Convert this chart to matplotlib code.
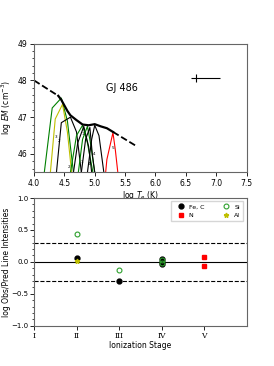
import numpy as np
import matplotlib.pyplot as plt
from matplotlib.ticker import MultipleLocator

# EM distribution (log T, log EM)
em_logt = [4.40, 4.45, 4.50, 4.55, 4.60, 4.70, 4.80, 4.90, 5.00, 5.10, 5.20, 5.30]
em_val = [47.58, 47.47, 47.32, 47.17, 47.05, 46.92, 46.80, 46.78, 46.81, 46.75, 46.70, 46.60]
dash_lo_t = [4.0, 4.40]
dash_lo_em = [48.0, 47.58]
dash_hi_t = [5.30, 5.70]
dash_hi_em = [46.60, 46.20]

# contribution-function loci: (color, logT, logEM)
loci = [
    ("green", [4.17, 4.30, 4.45, 4.55, 4.65], [45.5, 47.25, 47.52, 46.9, 45.5]),
    ("y", [4.27, 4.35, 4.47, 4.55, 4.62], [45.5, 46.95, 47.35, 46.6, 45.5]),
    ("k", [4.37, 4.45, 4.60, 4.70, 4.78], [45.5, 46.85, 47.00, 46.6, 45.5]),
    ("green", [4.60, 4.70, 4.80, 4.88, 4.97], [45.5, 46.5, 46.78, 46.3, 45.5]),
    ("k", [4.65, 4.72, 4.82, 4.90, 4.95], [45.5, 46.3, 46.75, 46.2, 45.5]),
    ("green", [4.73, 4.80, 4.88, 4.93, 5.00], [45.5, 46.4, 46.75, 46.3, 45.5]),
    ("k", [4.78, 4.85, 4.92, 4.96, 5.00], [45.5, 46.4, 46.72, 46.0, 45.5]),
    ("k", [4.88, 4.95, 5.00, 5.07, 5.15], [45.5, 46.4, 46.78, 46.5, 45.5]),
    ("red", [5.18, 5.20, 5.30, 5.34, 5.38], [45.5, 45.85, 46.58, 46.1, 45.5]),
]
loci_labels = [("3", 4.36, 46.45), ("2", 4.42, 46.35), ("2", 4.57, 45.65),
               ("1", 4.80, 46.55), ("1", 4.78, 45.78), ("4", 4.90, 45.72),
               ("4", 4.99, 46.0), ("5", 5.30, 46.15)]

# line ratios (ionization stage, log obs/pred)
fec_stage = [2, 3, 4, 4, 4]
fec_val = [0.06, -0.30, 0.04, 0.0, -0.04]
n_stage = [5, 5]
n_val = [0.08, -0.07]
si_stage = [2, 3, 4, 4]
si_val = [0.44, -0.13, 0.03, -0.02]
al_stage = [2]
al_val = [0.01]
stage_labels = ["I", "II", "III", "IV", "V"]

plt.rcParams['font.size'] = 5.5
fig = plt.figure(figsize=(2.74, 3.66), dpi=100)

ax1 = fig.add_axes([0.124, 0.529, 0.776, 0.352])
for c, t, e in loci:
    ax1.plot(t, e, color=c, lw=0.8)
for s, t, e in loci_labels:
    ax1.text(t, e, s, fontsize=3, ha='center', va='center')
ax1.plot(em_logt, em_val, 'k-', lw=1.6)
ax1.plot(dash_lo_t, dash_lo_em, 'k--', lw=1.3)
ax1.plot(dash_hi_t, dash_hi_em, 'k--', lw=1.3)
ax1.errorbar([6.67], [48.06], xerr=[[0.09], [0.40]], yerr=0.1, fmt='none',
             ecolor='k', elinewidth=0.8)
ax1.text(5.44, 47.78, "GJ 486", fontsize=7, ha='center', va='center')
ax1.set_xlim(4.0, 7.5)
ax1.set_ylim(45.5, 49)
ax1.xaxis.set_major_locator(MultipleLocator(0.5))
ax1.yaxis.set_major_locator(MultipleLocator(1))
ax1.yaxis.set_minor_locator(MultipleLocator(0.2))
ax1.set_xlabel(r"log $T_e$ (K)", labelpad=1)
ax1.set_ylabel(r"log $EM$ (cm$^{-3}$)")
ax1.yaxis.set_label_coords(-0.095, 0.5)

ax2 = fig.add_axes([0.124, 0.110, 0.776, 0.349])
ax2.axhline(0, color='k', lw=0.8)
ax2.axhline(0.3, color='k', lw=0.8, ls='--')
ax2.axhline(-0.3, color='k', lw=0.8, ls='--')
ax2.plot(fec_stage, fec_val, 'o', color='k', ms=3.5, label="Fe, C")
ax2.plot(n_stage, n_val, 's', color='red', ms=3.5, label="N")
ax2.plot(si_stage, si_val, 'o', mfc='none', mec='tab:green', mew=0.8, ms=3.5, label="Si")
ax2.plot(al_stage, al_val, '*', color='y', ms=3.5, label="Al")
ax2.set_xlim(1, 6)
ax2.set_ylim(-1, 1)
ax2.set_xticks(range(1, 6))
ax2.set_xticklabels(stage_labels, family='serif')
ax2.yaxis.set_major_locator(MultipleLocator(0.5))
ax2.yaxis.set_minor_locator(MultipleLocator(0.1))
ax2.set_xlabel("Ionization Stage", labelpad=1)
ax2.set_ylabel("log Obs/Pred Line Intensities")
ax2.yaxis.set_label_coords(-0.11, 0.5)
ax2.legend(loc='upper right', ncol=2, fontsize=4.5, frameon=True, fancybox=False,
           handletextpad=0.3, columnspacing=2.5, borderpad=0.5, edgecolor='0.8')

for ax in (ax1, ax2):
    for sp in ax.spines.values():
        sp.set_color('0.4')
    ax.tick_params(length=3, width=0.6, pad=1.5)
    ax.tick_params(which='minor', length=1.5, width=0.5)
ax2.tick_params(axis='y', labelsize=5, pad=1)

fig.savefig("out.png", dpi=100)
